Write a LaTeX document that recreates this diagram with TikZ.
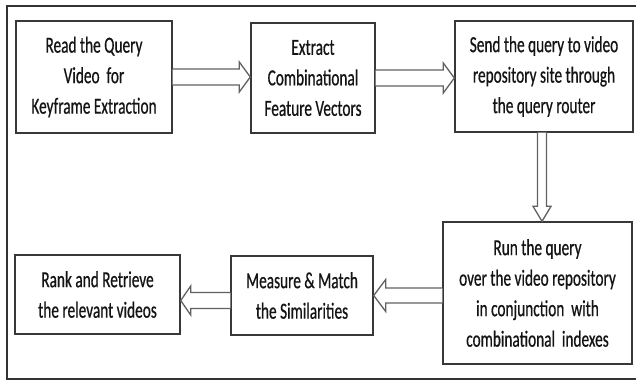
\documentclass[tikz,border=0pt]{standalone}
\usepackage{fontspec}
\setmainfont{Carlito}[FakeStretch=0.665, FakeBold=0.6]
\usetikzlibrary{calc}

\tikzset{
  stepbox/.style={draw=black!78, line width=1.4pt, fill=white, align=center,
    inner sep=0pt, font=\fontsize{23}{30.5}\selectfont, text=black!92},
  barrow/.style={draw=black!62, line width=1.3pt, fill=white, line join=miter},
  frameline/.style={draw=black!80, line width=1.3pt}
}

% block arrow from #1 to #2: shaft half width #3, head half width #4, head length #5
\newcommand\blockarrow[5]{%
  \coordinate (ba-s) at (#1);
  \coordinate (ba-e) at (#2);
  \coordinate (ba-h) at ($(ba-e)!#5!(ba-s)$);
  \draw[barrow] ($(ba-s)!#3!90:(ba-e)$) -- ($(ba-h)!#3!90:(ba-e)$)
    -- ($(ba-h)!#4!90:(ba-e)$) -- (ba-e) -- ($(ba-h)!#4!-90:(ba-e)$)
    -- ($(ba-h)!#3!-90:(ba-e)$) -- ($(ba-s)!#3!-90:(ba-e)$);
}

\begin{document}
\begin{tikzpicture}[x=1pt, y=1pt]
  \useasboundingbox (0,0) rectangle (636,-381);
  \fill[white] (0,0) rectangle (636,-381);

  % open frame round the flow
  \draw[frameline] (636,-6) -- (7,-6) -- (7,-379) -- (636,-379);

  % process steps
  \node[stepbox, minimum width=156pt, minimum height=112pt] (read) at (94,-77)
    {Read the Query\\Video~ for\\Keyframe Extraction};
  \node[stepbox, minimum width=124pt, minimum height=110pt] (extract) at (313,-78)
    {Extract\\Combinational\\Feature Vectors};
  \node[stepbox, minimum width=178pt, minimum height=111pt] (send) at (544,-76.5)
    {Send the query to video\\repository site through\\the query router};
  \node[stepbox, minimum width=189pt, minimum height=142pt] (run) at (537.5,-293)
    {Run the query\\over the video repository\\in conjunction~ with\\combinational~ indexes};
  \node[stepbox, minimum width=142pt, minimum height=79pt] (measure) at (302,-295.5)
    {Measure \& Match\\the Similarities};
  \node[stepbox, minimum width=165pt, minimum height=79pt] (rank) at (97.5,-294.5)
    {Rank and Retrieve\\the relevant videos};

  % connectors
  \blockarrow{read.east}{read.east -| extract.west}{8pt}{15pt}{11pt}
  \blockarrow{extract.east}{extract.east -| send.west}{8pt}{15pt}{11pt}
  \blockarrow{$(send.south)+(-2,0)$}{$(send.south |- run.north)+(-2,0)$}{4.5pt}{9pt}{15pt}
  \blockarrow{$(run.west |- measure.east)$}{measure.east}{7.5pt}{16pt}{12pt}
  \blockarrow{$(measure.west)+(0,-5)$}{$(measure.west -| rank.east)+(0,-5)$}{8pt}{14.5pt}{10pt}
\end{tikzpicture}
\end{document}
